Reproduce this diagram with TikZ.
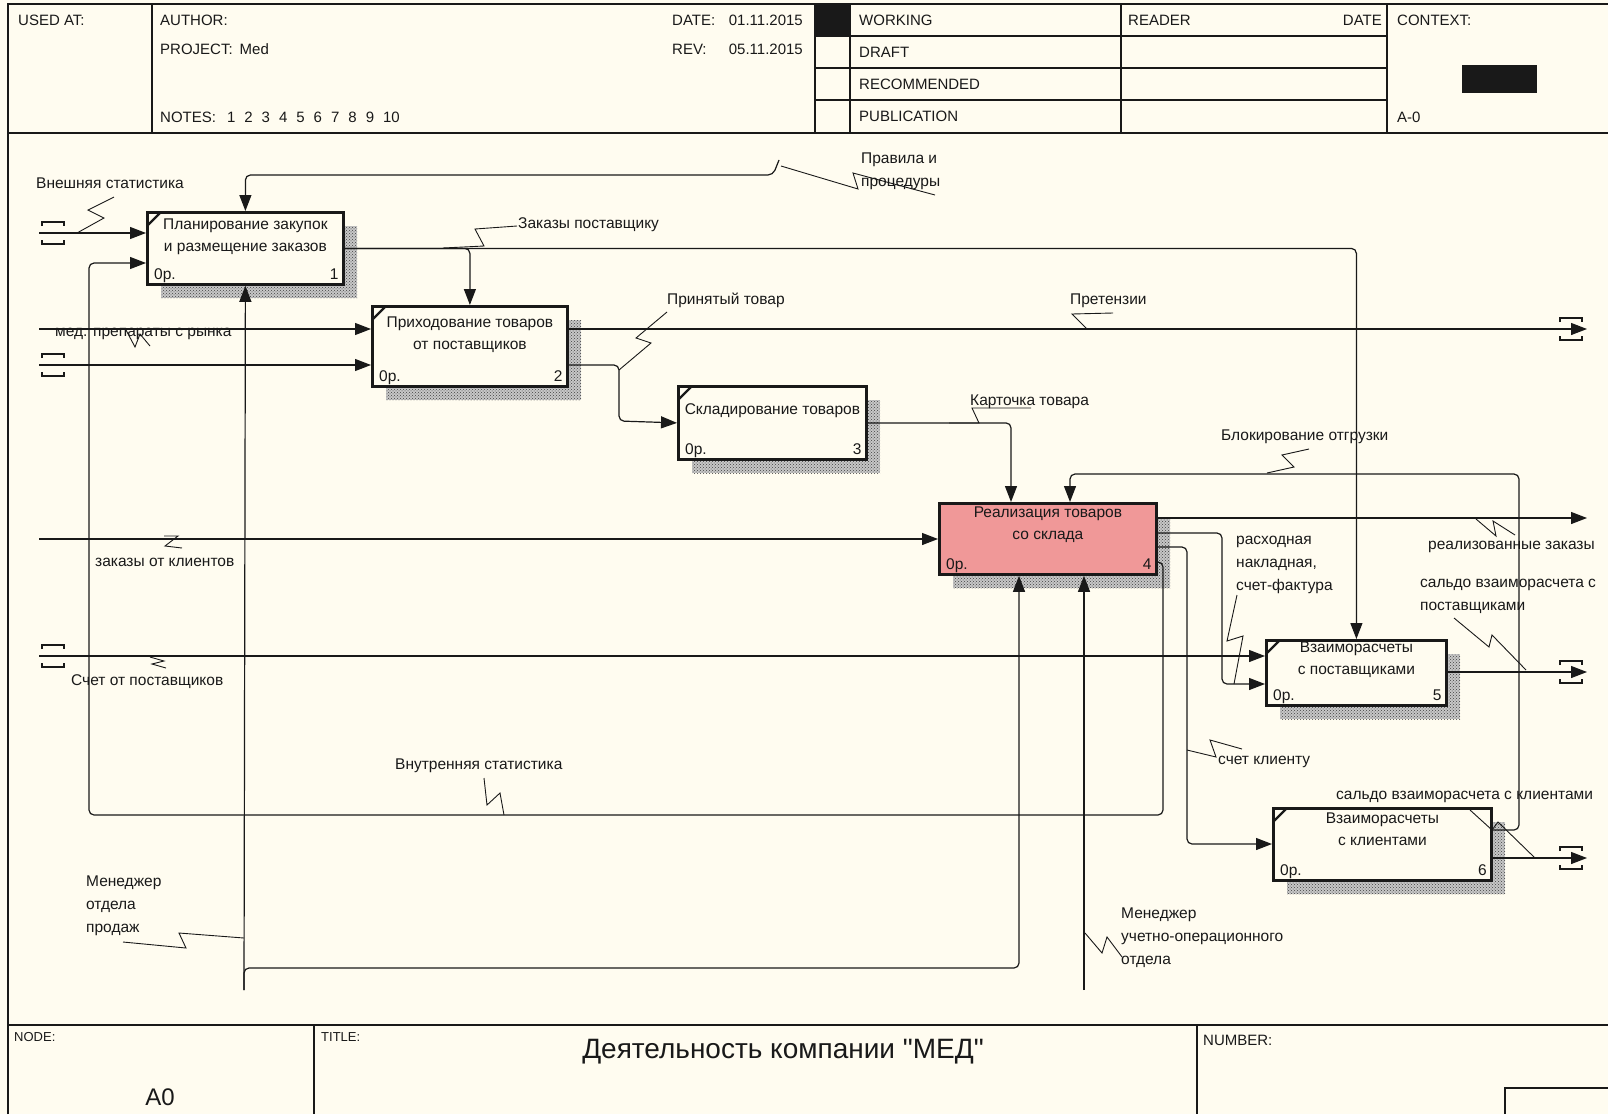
\documentclass[tikz,border=0pt]{standalone}
\usepackage{fontspec}
\setmainfont{Liberation Sans}
\newfontfamily\titlefont{Liberation Sans}[Ligatures=TeXOff]
\usetikzlibrary{arrows.meta, calc, patterns}

\definecolor{sheet}{RGB}{255,252,240}
\definecolor{blockpink}{RGB}{240,152,152}
\definecolor{ink}{RGB}{25,25,25}

% one IDEF0 block: style, name, x, y, width, height, text, number, text offset
\newcommand{\funcblock}[9]{%
  \fill[blockshade] (#3+15,#4+15) rectangle ++(#5,#6);
  \fill[blockdots] (#3+15,#4+15) rectangle ++(#5,#6);
  \node[funcbox, #1, minimum width=#5pt, minimum height=#6pt] (#2) at (#3,#4) {};
  \node[boxtext] (#2-txt) at ($(#2.north)+(0,#9)$) {#7};
  \node[boxnum, anchor=base west] (#2-op) at ($(#2.south west)+(8,-6)$) {0р.};
  \node[boxnum, anchor=base east] (#2-num) at ($(#2.south east)+(-6,-6)$) {#8};
}

\begin{document}
\begin{tikzpicture}[x=1pt, y=-1pt, line join=miter,
    frame/.style={ink, line width=1.4pt},
    funcbox/.style={draw=ink, line width=2.8pt, fill=sheet, anchor=north west, inner sep=0pt},
    blockshade/.style={fill=black!22},
    blockdots/.style={pattern=crosshatch dots, pattern color=black!75},
    blocktick/.style={ink, line width=2.4pt},
    boxtext/.style={font=\fontsize{15.5}{22}\selectfont, inner sep=0pt, align=center, anchor=north, text=ink},
    boxnum/.style={font=\fontsize{15.5}{18}\selectfont, inner sep=0pt, text=ink},
    arr/.style={ink, line width=1.2pt, rounded corners=5pt, -{Triangle[length=16pt,width=12pt]}},
    squig/.style={ink, line width=0.9pt},
    tunnel/.style={ink, line width=1.3pt},
    lbl/.style={font=\fontsize{15.5}{23}\selectfont, inner sep=0pt, anchor=west, align=left, text=ink},
    hdr/.style={font=\fontsize{15}{18}\selectfont, inner sep=0pt, anchor=west, text=ink}]

    \useasboundingbox (0,0) rectangle (1608,1114);
    \fill[sheet] (0,0) rectangle (1608,1114);

    % Frame and header
    \draw[frame] (8,1114) -- (8,4) -- (1608,4);
    \draw[frame] (8,133) -- (1608,133);
    \draw[frame] (152,4) -- (152,133);
    \draw[frame] (815,4) -- (815,133);
    \draw[frame] (850,4) -- (850,133);
    \draw[frame] (1121,4) -- (1121,133);
    \draw[frame] (1387,4) -- (1387,133);
    \foreach \yy in {36,68,100}
        \draw[frame] (815,\yy) -- (1387,\yy);
    \fill[ink] (815,4) rectangle (850,36);
    \fill[ink] (1462,65) rectangle (1537,93);

    \node[hdr] (usedat) at (18,20) {USED AT:};
    \node[hdr] (author) at (160,20) {AUTHOR:};
    \node[hdr] (project) at (160,49) {PROJECT:\hspace{7pt}Med};
    \node[hdr] (notes) at (160,117) {NOTES:\hspace{11pt}1\hspace{9pt}2\hspace{9pt}3\hspace{9pt}4\hspace{9pt}5\hspace{9pt}6\hspace{9pt}7\hspace{9pt}8\hspace{9pt}9\hspace{9pt}10};
    \node[hdr] (datelbl) at (672,20) {DATE:};
    \node[hdr, anchor=east] (dateval) at (803,20) {01.11.2015};
    \node[hdr] (revlbl) at (672,49) {REV:};
    \node[hdr, anchor=east] (revval) at (803,49) {05.11.2015};
    \node[hdr] (working) at (859,20) {WORKING};
    \node[hdr] (draft) at (859,52) {DRAFT};
    \node[hdr] (recom) at (859,84) {RECOMMENDED};
    \node[hdr] (public) at (859,116) {PUBLICATION};
    \node[hdr] (reader) at (1128,20) {READER};
    \node[hdr, anchor=east] (rdate) at (1382,20) {DATE};
    \node[hdr] (context) at (1397,20) {CONTEXT:};
    \node[hdr] (ctxnode) at (1397,117) {A-0};

    % Footer
    \draw[frame] (8,1025) -- (1608,1025);
    \draw[frame] (314,1025) -- (314,1114);
    \draw[frame] (1197,1025) -- (1197,1114);
    \draw[frame] (1608,1088) -- (1505,1088) -- (1505,1114);
    \node[hdr, font=\fontsize{13}{15}\selectfont] (nodelbl) at (14,1037) {NODE:};
    \node[hdr, anchor=center, font=\fontsize{24}{28}\selectfont] (nodeval) at (160,1097) {A0};
    \node[hdr, font=\fontsize{13}{15}\selectfont] (titlelbl) at (321,1037) {TITLE:};
    \node[hdr, anchor=center, font=\titlefont\fontsize{28}{32}\selectfont] (titleval) at (783,1052) {Деятельность компании "МЕД"};
    \node[hdr] (numberlbl) at (1203,1040) {NUMBER:};

    % Blocks
    \funcblock{}{b1}{146}{211}{196}{72}{Планирование закупок\\и размещение заказов}{1}{8}
    \funcblock{}{b2}{371}{305}{195}{80}{Приходование товаров\\от поставщиков}{2}{12}
    \funcblock{}{b3}{677}{385}{188}{73}{Складирование товаров}{3}{18}
    \funcblock{fill=blockpink}{b4}{938}{502}{217}{71}{Реализация товаров\\со склада}{4}{5}
    \funcblock{}{b5}{1265}{639}{180}{65}{Взаиморасчеты\\с поставщиками}{5}{3}
    \funcblock{}{b6}{1272}{807}{218}{72}{Взаиморасчеты\\с клиентами}{6}{6}
    \foreach \b in {b1,b2,b3,b5,b6}
        \draw[blocktick] ($(\b.north west)+(2,14)$) -- ($(\b.north west)+(14,2)$);

    % Free ends
    \coordinate (in1) at (39,233);
    \coordinate (in2) at (39,329);
    \coordinate (in3) at (39,365);
    \coordinate (in4) at (39,539);
    \coordinate (in5) at (39,656);
    \coordinate (out1) at (1587,329);
    \coordinate (out2) at (1587,518);
    \coordinate (out3) at (1587,672);
    \coordinate (out4) at (1587,858);
    \coordinate (ctl1) at (779,160);
    \coordinate (mech1) at (244,990);
    \coordinate (mech2) at (1084,990);

    % Tunnels
    \foreach \t in {in1,in3,in5} {
        \draw[tunnel] ($(\t)+(3,-7)$) -- ++(0,-4) -- ++(22,0) -- ++(0,4);
        \draw[tunnel] ($(\t)+(3,7)$) -- ++(0,4) -- ++(22,0) -- ++(0,-4);
    }
    \foreach \t in {out1,out3,out4} {
        \draw[tunnel] ($(\t)+(-27,-7)$) -- ++(0,-4) -- ++(22,0) -- ++(0,4);
        \draw[tunnel] ($(\t)+(-27,7)$) -- ++(0,4) -- ++(22,0) -- ++(0,-4);
    }

    % Arrows
    \draw[arr] (in1) -- (in1 -| b1.west);
    \draw[arr] (ctl1) -- (773,175) -| (b1.north);
    \draw[arr] (b1.east) -| (b5.north);
    \draw[arr] (b1.east) -| (b2.north);
    \draw[arr] (in2) -- (in2 -| b2.west);
    \draw[arr] (in3) -- (in3 -| b2.west);
    \draw[arr] (b2.east |- in2) -- (out1);
    \draw[arr] (b2.east |- in3) -| (619,421) -- (b3.west);
    \draw[arr] (b3.east) -| ($(b4.north west)+(73,0)$);
    \draw[arr] ($(b6.north east)+(0,23)$) -| (1519,474) -| ($(b4.north west)+(132,0)$);
    \draw[arr] (in4) -- (in4 -| b4.west);
    \draw[arr] (out2 -| b4.east) -- (out2);
    \draw[arr] ($(b4.north east)+(0,31)$) -| (1222,684) -- ($(b5.north west)+(0,45)$);
    \draw[arr] (in5) -- (in5 -| b5.west);
    \draw[arr] ($(b4.north east)+(0,45)$) -| (1187,844) -- ($(b6.north west)+(0,37)$);
    \draw[arr] ($(b4.north east)+(0,60)$) -| (1163,815) -| (89,263) -- ($(b1.north west)+(0,52)$);
    \draw[arr] (out3 -| b5.east) -- (out3);
    \draw[arr] (out4 -| b6.east) -- (out4);
    \draw[arr] (mech1) -- (b1.south);
    \draw[arr] (mech1) |- (1019,968) -- ($(b4.south west)+(81,0)$);
    \draw[arr] (mech2) -- ($(b4.south west)+(146,0)$);

    % Labels
    \node[lbl] (lExt) at (36,183) {Внешняя статистика};
    \node[lbl] (lRules) at (861,171) {Правила и\\процедуры};
    \node[lbl] (lOrders) at (518,225) {Заказы поставщику};
    \node[lbl] (lMed) at (55,334) {мед. препараты с рынка};
    \node[lbl] (lAccepted) at (667,300) {Принятый товар};
    \node[lbl] (lClaims) at (1070,301) {Претензии};
    \node[lbl] (lCard) at (970,402) {Карточка товара};
    \node[lbl] (lBlock) at (1221,437) {Блокирование отгрузки};
    \node[lbl] (lClientOrd) at (95,562) {заказы от клиентов};
    \node[lbl] (lInvoice) at (1236,565) {расходная\\накладная,\\счет-фактура};
    \node[lbl] (lSold) at (1428,547) {реализованные заказы};
    \node[lbl] (lSupBal) at (1420,596) {сальдо взаиморасчета с\\поставщиками};
    \node[lbl] (lSupBill) at (71,682) {Счет от поставщиков};
    \node[lbl] (lCliBill) at (1218,762) {счет клиенту};
    \node[lbl] (lIntern) at (395,766) {Внутренняя статистика};
    \node[lbl] (lCliBal) at (1336,797) {сальдо взаиморасчета с клиентами};
    \node[lbl] (lMgrSales) at (86,906) {Менеджер\\отдела\\продаж};
    \node[lbl] (lMgrAcc) at (1121,938) {Менеджер\\учетно-операционного\\отдела};

    % Squiggles
    \draw[squig] (77,233) -- (104,218) -- (88,210) -- (114,197);
    \draw[squig] (781,166) -- (858,189) -- (853,173) -- (935,195);
    \draw[squig] (443,248) -- (484,246) -- (475,229) -- (517,226);
    \draw[squig] (126,330) -- (135,347) -- (140,334) -- (150,346);
    \draw[squig] (619,370) -- (651,343) -- (636,338) -- (667,312);
    \draw[squig] (1058,329) -- (1087,329) -- (1072,314) -- (1113,313);
    \draw[squig] (949,423) -- (979,423) -- (972,408) -- (1031,408);
    \draw[squig] (1267,473) -- (1294,467) -- (1282,455) -- (1309,449);
    \draw[squig] (164,536) -- (178,536) -- (165,546) -- (182,548);
    \draw[squig] (1476,519) -- (1496,536) -- (1493,521) -- (1515,535);
    \draw[squig] (1237,595) -- (1227,641) -- (1243,636) -- (1234,684);
    \draw[squig] (1454,618) -- (1489,647) -- (1492,635) -- (1526,670);
    \draw[squig] (150,657) -- (164,661) -- (152,664) -- (166,668);
    \draw[squig] (1187,750) -- (1216,757) -- (1210,740) -- (1242,749);
    \draw[squig] (484,778) -- (487,805) -- (500,793) -- (504,815);
    \draw[squig] (1470,810) -- (1492,830) -- (1498,822) -- (1535,858);
    \draw[squig] (123,942) -- (186,948) -- (179,933) -- (244,938);
    \draw[squig] (1085,933) -- (1102,953) -- (1107,937) -- (1122,957);
\end{tikzpicture}
\end{document}
